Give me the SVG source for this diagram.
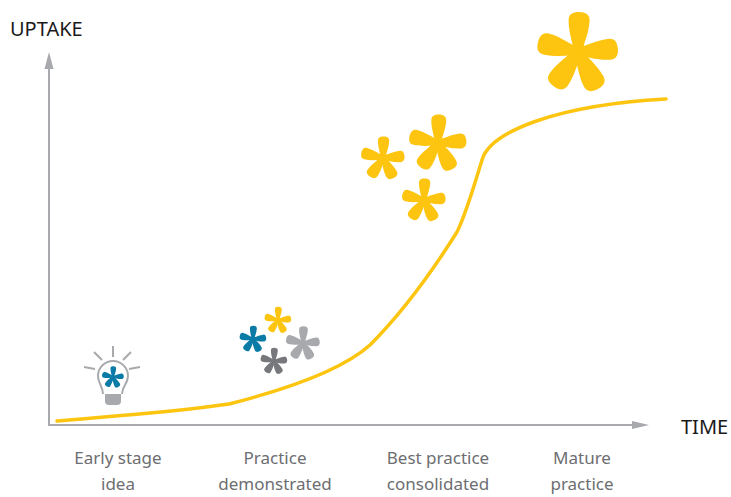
<svg xmlns="http://www.w3.org/2000/svg" width="731" height="497" viewBox="0 0 731 497">
<style>
text{font-family:"Noto Sans","Open Sans","Liberation Sans",sans-serif}
.ax{font-size:20px;fill:#1a1a1a}
.lb{font-size:17px;fill:#6d6e71;text-anchor:middle}
.axis{stroke:#a7a9ac;stroke-width:2;fill:none}
.ray{stroke:#a7a9ac;stroke-width:2;fill:none}
.y{fill:#fdc50f}.b{fill:#0a7aa6}.g{fill:#a7a9ac}.d{fill:#77787b}
</style>
<defs>
<path id="p" d="M-3.5,3C-5,-8-10.5,-20-10.5,-32C-10.5,-38-6,-40 0,-40C6,-40 10.5,-38 10.5,-32C10.5,-20 5,-8 3.5,3Z"/>
<g id="star">
<use href="#p" transform="rotate(2)"/>
<use href="#p" transform="rotate(85)"/>
<use href="#p" transform="rotate(152) scale(1.05)"/>
<use href="#p" transform="rotate(215) scale(1.05)"/>
<use href="#p" transform="rotate(284) scale(1.03)"/>
</g>
</defs>
<rect width="731" height="497" fill="#fff"/>
<g id="connectors">
<path class="axis" d="M49,68V425H634"/>
<path d="M49,52L53.5,69H44.5Z" class="g"/>
<path d="M649,425L632,421V429Z" class="g"/>
<path id="curve" d="M57,421C115,416 175,412 229,404C280,391 340,372 370,345C400,315 430,275 457,232C466,214 474,186 482,160C490,132 556,105 666,99" fill="none" stroke="#fdc50f" stroke-width="3.5" stroke-linecap="round"/>
</g>
<g id="axis-labels">
<text class="ax" x="10" y="36">UPTAKE</text>
<text class="ax" x="681" y="434">TIME</text>
</g>
<g id="bulb">
<path d="M103,394C103,386 98,384 98,376A15,15 0 1 1 128,376C128,384 122,386 122,394" fill="none" stroke="#a7a9ac" stroke-width="2"/>
<path d="M105,394H121V401A4,4 0 0 1 117,405H109A4,4 0 0 1 105,401Z" class="g"/>
<path class="ray" d="M113,346V357M123,360L131,352M102,360L94,352M95,369L84,367M129,369L140,367"/>
<use href="#star" class="b" transform="translate(113,377) scale(.27)"/>
</g>
<g id="early-stars">
<use href="#star" class="y" transform="translate(278,320) scale(.33)"/>
<use href="#star" class="b" transform="translate(253,339) scale(.33)"/>
<use href="#star" class="g" transform="translate(303,343) scale(.42)"/>
<use href="#star" class="d" transform="translate(274,361) scale(.33)"/>
</g>
<g id="best-stars">
<use href="#star" class="y" transform="translate(438,143) scale(.71)"/>
<use href="#star" class="y" transform="translate(383,158) scale(.54)"/>
<use href="#star" class="y" transform="translate(424,200) scale(.54)"/>
</g>
<g id="mature-star">
<use href="#star" class="y" transform="translate(578,52)"/>
</g>
<g id="stage-early"><text class="lb" x="118" y="464">Early stage</text><text class="lb" x="118" y="490">idea</text></g>
<g id="stage-practice"><text class="lb" x="275" y="464">Practice</text><text class="lb" x="275" y="490">demonstrated</text></g>
<g id="stage-best"><text class="lb" x="438" y="464">Best practice</text><text class="lb" x="438" y="490">consolidated</text></g>
<g id="stage-mature"><text class="lb" x="582" y="464">Mature</text><text class="lb" x="582" y="490">practice</text></g>
</svg>
